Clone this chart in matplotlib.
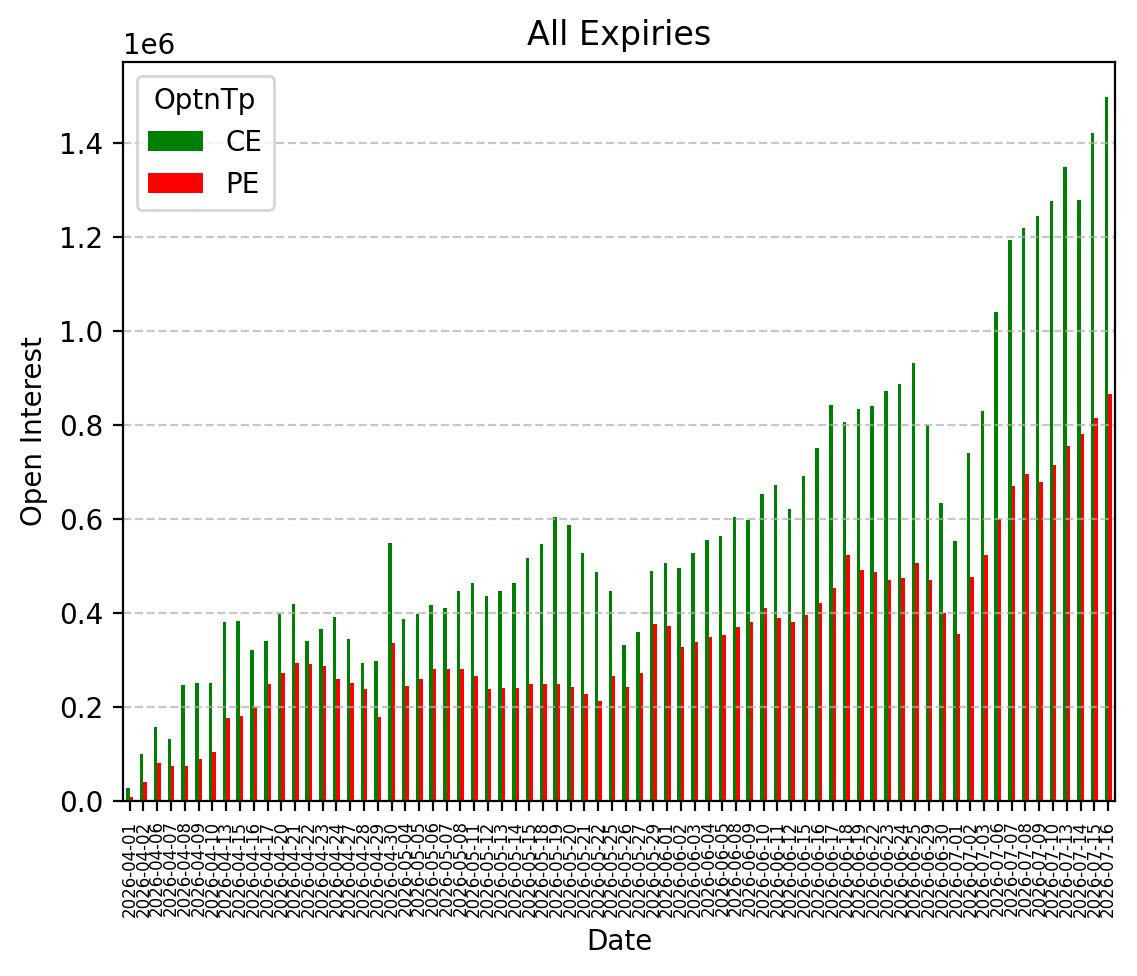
import matplotlib
matplotlib.use("Agg")
import matplotlib.pyplot as plt
import numpy as np
import pandas as pd

dates = [
    "2026-04-01", "2026-04-02", "2026-04-06", "2026-04-07", "2026-04-08", "2026-04-09", "2026-04-10",
    "2026-04-13", "2026-04-15", "2026-04-16", "2026-04-17", "2026-04-20", "2026-04-21", "2026-04-22",
    "2026-04-23", "2026-04-24", "2026-04-27", "2026-04-28", "2026-04-29", "2026-04-30",
    "2026-05-04", "2026-05-05", "2026-05-06", "2026-05-07", "2026-05-08", "2026-05-11", "2026-05-12",
    "2026-05-13", "2026-05-14", "2026-05-15", "2026-05-18", "2026-05-19", "2026-05-20", "2026-05-21",
    "2026-05-22", "2026-05-25", "2026-05-26", "2026-05-27", "2026-05-29",
    "2026-06-01", "2026-06-02", "2026-06-03", "2026-06-04", "2026-06-05", "2026-06-08", "2026-06-09",
    "2026-06-10", "2026-06-11", "2026-06-12", "2026-06-15", "2026-06-16", "2026-06-17", "2026-06-18",
    "2026-06-19", "2026-06-22", "2026-06-23", "2026-06-24", "2026-06-25", "2026-06-29", "2026-06-30",
    "2026-07-01", "2026-07-02", "2026-07-03", "2026-07-06", "2026-07-07", "2026-07-08", "2026-07-09",
    "2026-07-10", "2026-07-13", "2026-07-14", "2026-07-15", "2026-07-16",
]

ce = [
    0.027, 0.099, 0.157, 0.133, 0.246, 0.252, 0.252,
    0.380, 0.384, 0.321, 0.340, 0.399, 0.419, 0.340,
    0.367, 0.391, 0.344, 0.293, 0.297, 0.550,
    0.387, 0.399, 0.418, 0.410, 0.446, 0.463, 0.436,
    0.448, 0.465, 0.518, 0.548, 0.604, 0.587, 0.527,
    0.487, 0.446, 0.331, 0.359, 0.489,
    0.506, 0.496, 0.527, 0.555, 0.563, 0.604, 0.598,
    0.653, 0.672, 0.621, 0.691, 0.751, 0.842, 0.806,
    0.834, 0.840, 0.872, 0.887, 0.932, 0.800, 0.634,
    0.553, 0.740, 0.831, 1.041, 1.194, 1.219, 1.245,
    1.277, 1.349, 1.279, 1.421, 1.498,
]

pe = [
    0.008, 0.040, 0.080, 0.074, 0.074, 0.089, 0.104,
    0.176, 0.180, 0.200, 0.248, 0.272, 0.293, 0.291,
    0.287, 0.259, 0.251, 0.238, 0.178, 0.336,
    0.244, 0.259, 0.280, 0.280, 0.282, 0.267, 0.238,
    0.240, 0.240, 0.250, 0.250, 0.250, 0.242, 0.227,
    0.212, 0.265, 0.242, 0.272, 0.376,
    0.372, 0.327, 0.338, 0.349, 0.353, 0.370, 0.382,
    0.410, 0.389, 0.380, 0.395, 0.421, 0.453, 0.523,
    0.491, 0.487, 0.470, 0.474, 0.506, 0.470, 0.400,
    0.355, 0.476, 0.523, 0.600, 0.670, 0.695, 0.678,
    0.716, 0.755, 0.781, 0.815, 0.866,
]

df = pd.DataFrame({"CE": np.array(ce) * 1e6, "PE": np.array(pe) * 1e6}, index=dates)
df.index.name = "Date"
df.columns.name = "OptnTp"

fig = plt.figure(figsize=(1137 / 200, 976 / 200), dpi=200)
ax = fig.add_axes([0.108, 0.1793, 0.8727, 0.7572])
df.plot(kind="bar", ax=ax, color=["green", "red"])
ax.set_title("All Expiries")
ax.set_xlabel("Date")
ax.set_ylabel("Open Interest")
ax.tick_params(axis="x", labelsize=6, rotation=90)
ax.grid(axis="y", linestyle="--", alpha=0.7)
ax.legend(title="OptnTp", loc="upper left")
fig.savefig("out.png", dpi=200)
